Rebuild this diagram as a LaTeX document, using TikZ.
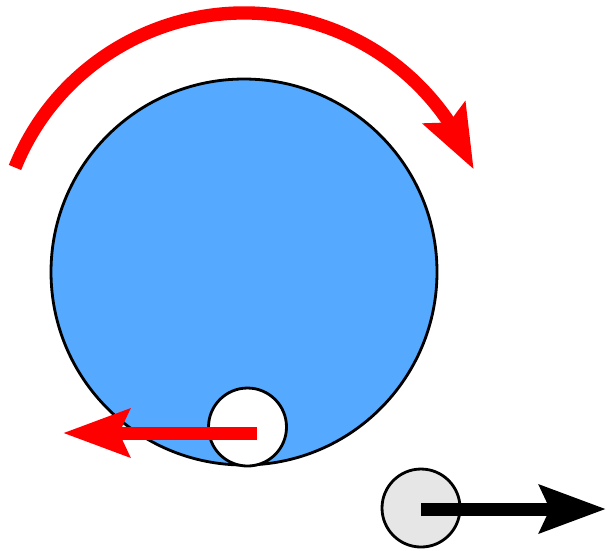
\documentclass[tikz,border=0pt]{standalone}
\usetikzlibrary{arrows.meta,bending}
\definecolor{discblue}{HTML}{55A9FF}
\definecolor{puckgray}{HTML}{E6E6E6}
\begin{document}
\begin{tikzpicture}[
    rim/.style={circle,draw=black,line width=0.8pt,inner sep=0pt},
    spin/.style={draw=red,line width=3.8pt,-{Stealth[length=6.3mm,width=4.6mm,inset=1mm,flex]}},
    push/.style={line width=3.7pt,-{Stealth[length=6.6mm,width=4.7mm,inset=1mm]}}
]
    \useasboundingbox (0,0) rectangle (6.07,5.50);
    % Turntable
    \node[rim,fill=discblue,minimum size=3.86cm] (disc) at (2.44,2.78) {};
    \coordinate (hub) at (2.44,2.90);
    % Rotation
    \draw[spin] ([shift={(158:2.47)}]hub) arc[start angle=158,end angle=21.5,radius=2.47];
    % Puck on the turntable
    \node[rim,fill=white,minimum size=0.78cm] (puck) at (2.475,1.23) {};
    \coordinate (pucktip) at (0.63,1.17);
    \draw[push,red] ([shift={(0.095,-0.06)}]puck.center) -- (pucktip);
    % Puck off the turntable
    \node[rim,fill=puckgray,minimum size=0.78cm] (free) at (4.21,0.42) {};
    \coordinate (freetip) at (6.06,0.41);
    \draw[push,black] ([yshift=-0.01cm]free.center) -- (freetip);
\end{tikzpicture}
\end{document}
